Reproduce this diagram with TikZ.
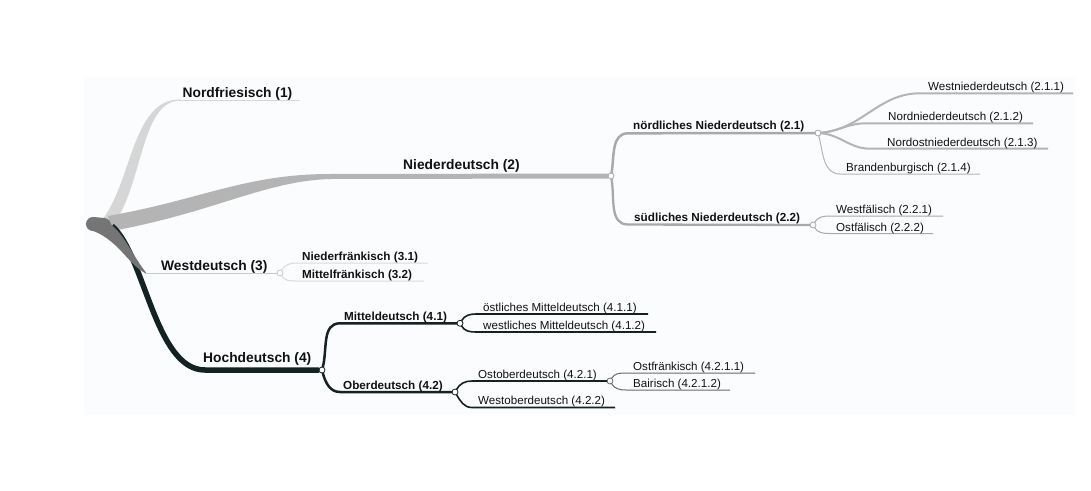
\documentclass[tikz,border=0pt]{standalone}
\usepackage{fontspec}
\setmainfont{Liberation Sans}
\definecolor{bgcol}{HTML}{FBFCFD}
\definecolor{hochcol}{HTML}{152222}
\definecolor{niedcol}{HTML}{B4B4B4}
\definecolor{niedtwo}{HTML}{A9A9A9}
\definecolor{friescol}{HTML}{D6D6D6}
\definecolor{westcol}{HTML}{C8C8C8}
\definecolor{westleaf}{HTML}{DADADA}
\definecolor{rootcol}{HTML}{757575}
\definecolor{oflcol}{HTML}{6A6A6A}
\definecolor{txtcol}{HTML}{111111}
\tikzset{
  lvlone/.style={font=\fontsize{13.8}{16}\selectfont\bfseries, text=txtcol, anchor=base west, inner sep=0},
  lvltwo/.style={font=\fontsize{11.7}{14}\selectfont\bfseries, text=txtcol, anchor=base west, inner sep=0},
  leaf/.style={font=\fontsize{11.6}{14}\selectfont, text=txtcol, anchor=base west, inner sep=0},
  knot/.style={circle, draw, fill=white, inner sep=0, outer sep=0, minimum size=6pt, line width=0.8pt}
}
\begin{document}
\begin{tikzpicture}[x=1pt,y=-1pt]
	\useasboundingbox (0,0) rectangle (1091,490);
	\fill[bgcol] (84,78) rectangle (1075,415);
	\node[knot,draw=niedtwo] (jN) at (611,176) {};
	\node[knot,draw=niedtwo] (jN1) at (818,133) {};
	\node[knot,draw=niedtwo] (jN2) at (813,225) {};
	\node[knot,draw=westcol] (jW) at (280,273) {};
	\node[knot,draw=hochcol] (jH) at (322,370) {};
	\node[knot,draw=hochcol] (jH1) at (460,323.3) {};
	\node[knot,draw=hochcol] (jH2) at (455,392) {};
	\node[knot,draw=oflcol] (jH21) at (610,381) {};
	\fill[friescol] (102,220) .. controls (132,182) and (132,99.4) .. (180,99.4) -- (180,100.6) .. controls (140,101) and (143,188) .. (112,226) -- cycle;
	\draw[friescol, line width=1pt] (179,100) -- (300,100);
	\fill[niedcol] (108,216) .. controls (200,200) and (245,174) .. (330,174) -- (330,179) .. controls (265,181) and (215,212) .. (112,231) -- cycle;
	\draw[niedcol, line width=5pt] (328,176.5) -- (jN);
	\draw[hochcol, line width=5.5pt] (112,226) .. controls (145,255) and (155,370) .. (205,370) -- (jH);
	\fill[rootcol] (93,217) .. controls (120,220) and (128,250) .. (146,272.5) -- (146,273.5) .. controls (128,265) and (118,238) .. (88,229) -- cycle;
	\draw[westcol, line width=1pt] (145,273) -- (jW);
	\draw[rootcol, line width=14pt, line cap=round] (93,224) -- (104,225);
	\draw[niedtwo, line width=2.5pt] (jN) to[out=80,in=180] (628,133.3) -- (jN1);
	\draw[niedtwo, line width=2.3pt] (jN) to[out=-80,in=180] (628,224.5) -- (jN2);
	\draw[niedcol, line width=2pt] (jN1) to[out=5,in=180] (920,93.3) -- (1073,93.3);
	\draw[niedcol, line width=2pt] (jN1) to[out=5,in=180] (866,123.3) -- (1033,123.3);
	\draw[niedcol, line width=2pt] (jN1) to[out=-5,in=180] (870,148.7) -- (1048,148.7);
	\draw[niedcol, line width=1pt] (jN1) to[out=-75,in=180] (840,174) -- (980,174);
	\draw[niedtwo, line width=1pt] (jN2) to[out=60,in=180] (830,216) -- (943,216);
	\draw[niedtwo, line width=1pt] (jN2) to[out=-60,in=180] (830,233.5) -- (933,233.5);
	\draw[westleaf, line width=1pt] (jW) to[out=60,in=180] (296,263) -- (428,263);
	\draw[westleaf, line width=1pt] (jW) to[out=-60,in=180] (296,281) -- (424,281);
	\draw[hochcol, line width=2.5pt] (jH) to[out=75,in=180] (340,323.3) -- (jH1);
	\draw[hochcol, line width=2.5pt] (jH) to[out=-75,in=180] (340,392) -- (jH2);
	\draw[hochcol, line width=1.6pt] (jH1) to[out=60,in=180] (476,314) -- (648,314);
	\draw[hochcol, line width=1.6pt] (jH1) to[out=-60,in=180] (476,332) -- (656,332);
	\draw[hochcol, line width=1.6pt] (jH2) to[out=60,in=180] (472,381) -- (jH21);
	\draw[hochcol, line width=1.6pt] (jH2) to[out=-60,in=180] (472,407.5) -- (615,407.5);
	\draw[oflcol, line width=1pt] (jH21) to[out=60,in=180] (626,373) -- (755,373);
	\draw[oflcol, line width=1pt] (jH21) to[out=-60,in=180] (626,390) -- (730,390);
	\node[lvlone] (nordfr) at (182.5,97) {Nordfriesisch (1)};
	\node[lvlone] (nieder) at (403,169) {Niederdeutsch (2)};
	\node[lvlone] (westd) at (161,270) {Westdeutsch (3)};
	\node[lvlone] (hochd) at (203,362) {Hochdeutsch (4)};
	\node[lvltwo] (noerdl) at (633,129.5) {nördliches Niederdeutsch (2.1)};
	\node[lvltwo] (suedl) at (634,221.5) {südliches Niederdeutsch (2.2)};
	\node[lvltwo] (niederfr) at (302,260) {Niederfränkisch (3.1)};
	\node[lvltwo] (mittelfr) at (302,278) {Mittelfränkisch (3.2)};
	\node[lvltwo] (mitteld) at (344,320) {Mitteldeutsch (4.1)};
	\node[lvltwo] (oberd) at (343,389) {Oberdeutsch (4.2)};
	\node[leaf] (westnd) at (928,90.5) {Westniederdeutsch (2.1.1)};
	\node[leaf] (nordnd) at (888,120.5) {Nordniederdeutsch (2.1.2)};
	\node[leaf] (nordostnd) at (887,146) {Nordostniederdeutsch (2.1.3)};
	\node[leaf] (brandenb) at (846,171) {Brandenburgisch (2.1.4)};
	\node[leaf] (westfael) at (836,213) {Westfälisch (2.2.1)};
	\node[leaf] (ostfael) at (836,231) {Ostfälisch (2.2.2)};
	\node[leaf] (oestlmd) at (483,311) {östliches Mitteldeutsch (4.1.1)};
	\node[leaf] (westlmd) at (483,329) {westliches Mitteldeutsch (4.1.2)};
	\node[leaf] (ostobd) at (478,378) {Ostoberdeutsch (4.2.1)};
	\node[leaf] (westobd) at (478,404.5) {Westoberdeutsch (4.2.2)};
	\node[leaf] (ostfraenk) at (633,370) {Ostfränkisch (4.2.1.1)};
	\node[leaf] (bair) at (633,387.5) {Bairisch (4.2.1.2)};
\end{tikzpicture}
\end{document}
